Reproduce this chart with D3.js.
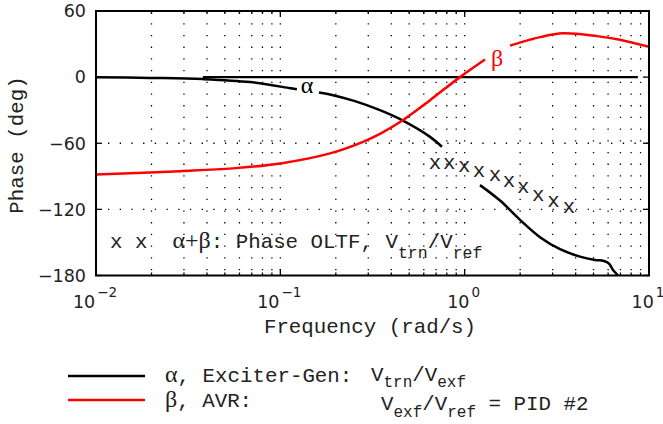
<!DOCTYPE html>
<html><head><meta charset="utf-8">
<script src="https://cdn.jsdelivr.net/npm/d3@7"></script>
<style>html,body{margin:0;padding:0;background:#fff;}</style>
</head><body>
<svg id="c" width="663" height="424"></svg>
<script>
// ---- data ----
const xTickExps = [-2, -1, 0, 1];
const yTicks = [60, 0, -60, -120, -180];
const yGrid = [-60, -120];
// alpha (Exciter-Gen) phase, [freq rad/s, deg]; null = break in the drawn line
const alphaFreq  = [0.01, 0.0196, 0.038, 0.0685, 0.1128, 0.123, null, 0.162, 0.186, 0.254, 0.347, 0.457, 0.649, 0.753, null,
                    1.211, 1.555, 1.996, 2.563, 3.291, 4.225, 5.094, 5.70, 6.07, 6.38, 6.79, 7.05];
const alphaPhase = [0, -0.7, -1.8, -4.5, -10, -11, null, -13.9, -15.7, -21.8, -30, -39, -54.2, -63.2, null,
                    -98, -112, -129.5, -145.2, -156.1, -162.9, -165.9, -166.8, -169.2, -175.1, -180.1, -183.3];
// beta (AVR, PID #2) phase
const betaFreq  = [0.01, 0.0286, 0.0553, 0.1, 0.186, 0.281, 0.347, 0.457, 0.649, 0.943, 1.289, null, 1.762, 2.262, 2.563, 3.417, 5.224, 6.96, 10];
const betaPhase = [-88.3, -85.3, -82.8, -78.3, -69.2, -58.7, -51.5, -39.6, -20.9, 0, 16, null, 28.6, 34, 36.3, 39.7, 37.2, 34, 27.5];
// alpha+beta open loop phase markers
const sumFreq  = [0.690, 0.826, 0.996, 1.197, 1.462, 1.74, 2.08, 2.51, 3.03, 3.68];
const sumPhase = [-79, -79.6, -81.9, -86.5, -90.5, -95.9, -101.4, -108, -113.4, -119.5];
// zero reference line
const zeroFreq = [0.038, 8.7];

// ---- layout ----
const L = 96, R = 649, T = 11, B = 275.5;
const svg = d3.select("#c");
const x = d3.scaleLog().domain([0.01, 10]).range([L, R]);
const y = d3.scaleLinear().domain([-180, 60]).range([B, T]);
const mono = "'Liberation Mono', 'Courier New', monospace";
const sans = "'DejaVu Sans', sans-serif";
const serif = "'Liberation Serif', 'Times New Roman', serif";
const MS = 20.8;

svg.append("defs").append("clipPath").attr("id", "clip")
  .append("rect").attr("x", L).attr("y", T).attr("width", R - L).attr("height", B - T);

// grid
const minorVals = [];
for (let e = -2; e < 1; e++) for (let m = 1; m <= 9; m++) minorVals.push(m * Math.pow(10, e));
minorVals.push(10);
const g = svg.append("g");
g.selectAll("line.vg").data(minorVals.filter(v => v > 0.0101 && v < 9.99)).enter().append("line")
  .attr("x1", d => x(d)).attr("x2", d => x(d)).attr("y1", T + 0.5).attr("y2", B)
  .attr("stroke", "#000").attr("stroke-width", 1.3).attr("stroke-dasharray", "1.3,10.4");
g.selectAll("line.hg").data(yGrid).enter().append("line")
  .attr("x1", L + 12).attr("x2", R).attr("y1", d => y(d)).attr("y2", d => y(d))
  .attr("stroke", "#000").attr("stroke-width", 1.3).attr("stroke-dasharray", "1.3,10.4");

// ticks on all four sides (inward)
const tk = svg.append("g").attr("stroke", "#000").attr("stroke-width", 1.3);
minorVals.forEach(v => {
  const major = Math.abs(Math.log10(v) - Math.round(Math.log10(v))) < 1e-9;
  const len = major ? 6 : 3;
  tk.append("line").attr("x1", x(v)).attr("x2", x(v)).attr("y1", B).attr("y2", B - len);
  tk.append("line").attr("x1", x(v)).attr("x2", x(v)).attr("y1", T).attr("y2", T + len);
});
yTicks.forEach(v => {
  tk.append("line").attr("x1", L).attr("x2", L + 6).attr("y1", y(v)).attr("y2", y(v));
  tk.append("line").attr("x1", R).attr("x2", R - 6).attr("y1", y(v)).attr("y2", y(v));
});

// curves
const plot = svg.append("g").attr("clip-path", "url(#clip)");
const zip = (a, b) => a.map((v, i) => [v, b[i]]);
const straight = d3.line().x(d => x(d[0])).y(d => y(d[1]));
const smooth = d3.line().defined(d => d[0] !== null).x(d => x(d[0])).y(d => y(d[1]))
  .curve(d3.curveCatmullRom.alpha(0.5));
plot.append("path").datum(zip(zeroFreq, [0, 0])).attr("d", straight)
  .attr("fill", "none").attr("stroke", "#000").attr("stroke-width", 2.2);
plot.append("path").datum(zip(alphaFreq, alphaPhase)).attr("d", smooth)
  .attr("fill", "none").attr("stroke", "#000").attr("stroke-width", 2.5);
plot.append("path").datum(zip(betaFreq, betaPhase)).attr("d", smooth)
  .attr("fill", "none").attr("stroke", "#ff0000").attr("stroke-width", 2.5);

// alpha+beta markers
svg.append("g").selectAll("text").data(zip(sumFreq, sumPhase)).enter().append("text")
  .attr("x", d => x(d[0])).attr("y", d => y(d[1]) + 4.5)
  .attr("text-anchor", "middle").attr("font-family", mono).attr("font-size", MS).attr("fill", "#222")
  .text("x");

// curve labels
svg.append("text").attr("x", 307).attr("y", 93).attr("text-anchor", "middle")
  .attr("font-family", serif).attr("font-size", 24).attr("fill", "#000").text("α");
svg.append("text").attr("x", 497).attr("y", 66).attr("text-anchor", "middle")
  .attr("font-family", serif).attr("font-size", 24).attr("fill", "#ff0000").text("β");

// frame
svg.append("rect").attr("x", L).attr("y", T).attr("width", R - L).attr("height", B - T)
  .attr("fill", "none").attr("stroke", "#000").attr("stroke-width", 2);

// y tick labels
svg.append("g").selectAll("text").data(yTicks).enter().append("text")
  .attr("x", 86).attr("y", d => y(d)).attr("dy", "0.36em").attr("text-anchor", "end")
  .attr("font-family", sans).attr("font-size", 17.5).attr("fill", "#222")
  .text(d => d < 0 ? "\u2212" + Math.abs(d) : String(d));

// x tick labels 10^e
const xl = svg.append("g").selectAll("text").data(xTickExps).enter().append("text")
  .attr("x", d => x(Math.pow(10, d)) - 1).attr("y", 308).attr("text-anchor", "middle")
  .attr("font-family", sans).attr("font-size", 17.5).attr("fill", "#222");
xl.append("tspan").text("10");
xl.append("tspan").attr("dy", -11).attr("font-size", 13.5).attr("dx", 2)
  .text(d => d < 0 ? "\u2212" + Math.abs(d) : String(d));

// axis titles
svg.append("text").attr("x", 370).attr("y", 333).attr("text-anchor", "middle")
  .attr("font-family", mono).attr("font-size", MS).attr("fill", "#222").text("Frequency (rad/s)");
svg.append("text").attr("transform", "translate(23,145) rotate(-90)").attr("text-anchor", "middle")
  .attr("font-family", mono).attr("font-size", MS).attr("fill", "#222").text("Phase (deg)");

// annotation inside plot
function subText(sel, parts) {
  parts.forEach(p => {
    const t = sel.append("tspan").text(p.t);
    if (p.f) t.attr("font-family", p.f);
    if (p.s) t.attr("font-size", p.s);
    if (p.dy) t.attr("dy", p.dy);
  });
}
const ann = svg.append("text").attr("x", 110).attr("y", 248)
  .attr("font-family", mono).attr("font-size", MS).attr("fill", "#222").attr("xml:space", "preserve");
subText(ann, [
  {t: "x x  "}, {t: "α+β", f: serif, s: 24}, {t: ": Phase OLTF, V"},
  {t: "trn", s: 16.5, dy: 10}, {t: "/V", dy: -10}, {t: "ref", s: 16.5, dy: 10}
]);

// legend
const legY1 = 376, legY2 = 400;
svg.append("line").attr("x1", 68).attr("x2", 145).attr("y1", legY1).attr("y2", legY1)
  .attr("stroke", "#000").attr("stroke-width", 2.5);
svg.append("line").attr("x1", 68).attr("x2", 145).attr("y1", legY2).attr("y2", legY2)
  .attr("stroke", "#ff0000").attr("stroke-width", 2.5);
const l1a = svg.append("text").attr("x", 165).attr("y", legY1 + 6)
  .attr("font-family", mono).attr("font-size", MS).attr("fill", "#222").attr("xml:space", "preserve");
subText(l1a, [{t: "α", f: serif, s: 24}, {t: ", Exciter-Gen:"}]);
const l1b = svg.append("text").attr("x", 371).attr("y", legY1 + 5)
  .attr("font-family", mono).attr("font-size", MS).attr("fill", "#222").attr("xml:space", "preserve");
subText(l1b, [{t: "V"}, {t: "trn", s: 16, dy: 6}, {t: "/V", dy: -6}, {t: "exf", s: 16, dy: 6}]);
const l2a = svg.append("text").attr("x", 165).attr("y", legY2 + 7)
  .attr("font-family", mono).attr("font-size", MS).attr("fill", "#222").attr("xml:space", "preserve");
subText(l2a, [{t: "β", f: serif, s: 24}, {t: ", AVR:"}]);
const l2b = svg.append("text").attr("x", 381).attr("y", legY2 + 9.5)
  .attr("font-family", mono).attr("font-size", MS).attr("fill", "#222").attr("xml:space", "preserve");
subText(l2b, [{t: "V"}, {t: "exf", s: 16, dy: 7}, {t: "/V", dy: -7}, {t: "ref", s: 16, dy: 7},
  {t: " = PID #2", dy: -7}]);
</script>
</body></html>
